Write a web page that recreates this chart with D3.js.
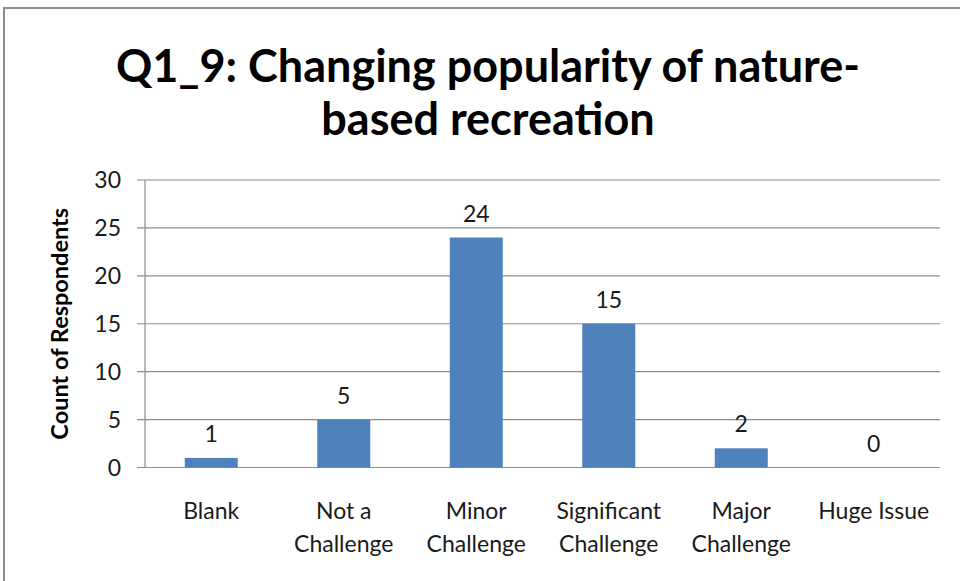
<!DOCTYPE html>
<html>
<head>
<meta charset="utf-8">
<script src="https://cdn.jsdelivr.net/npm/d3@7"></script>
<style>
  body { margin: 0; background: #fff; }
  text { font-family: Lato, "Open Sans", sans-serif; fill: #1a1a1a; }
</style>
</head>
<body>
<div id="chart"></div>
<script>
// Chart data
const categories = [["Blank"], ["Not a", "Challenge"], ["Minor", "Challenge"], ["Significant", "Challenge"], ["Major", "Challenge"], ["Huge Issue"]];
const counts = [1, 5, 24, 15, 2, 0];
const yTicks = [0, 5, 10, 15, 20, 25, 30];
const titleLines = ["Q1_9: Changing popularity of nature-", "based recreation"];
const yLabel = "Count of Respondents";

const W = 960, H = 581;
const margin = { top: 180, right: 20, bottom: 113.5, left: 145 };
const width = W - margin.left - margin.right;
const height = H - margin.top - margin.bottom;

const root = d3.select("#chart").append("svg")
    .attr("width", W)
    .attr("height", H);

// Outer chart border (runs off the right and bottom edges)
root.append("rect")
    .attr("x", 4).attr("y", 8)
    .attr("width", W + 10).attr("height", H + 10)
    .attr("fill", "#fff")
    .attr("stroke", "#8c8c8c")
    .attr("stroke-width", 2);

// Title
root.append("g").selectAll("text")
    .data(titleLines)
    .join("text")
    .attr("x", 488)
    .attr("y", (d, i) => 82 + i * 53)
    .attr("text-anchor", "middle")
    .attr("font-size", 45)
    .attr("font-weight", "bold")
    .style("fill", "#000")
    .text(d => d);

const svg = root.append("g")
    .attr("transform", `translate(${margin.left},${margin.top})`);

const x = d3.scaleBand()
    .domain(d3.range(categories.length))
    .range([0, width])
    .paddingInner(0.6)
    .paddingOuter(0.3);

const y = d3.scaleLinear()
    .domain([0, 30])
    .range([height, 0]);

// Gridlines
svg.append("g")
    .selectAll("line")
    .data(yTicks)
    .join("line")
    .attr("x1", -8).attr("x2", width)
    .attr("y1", d => y(d)).attr("y2", d => y(d))
    .attr("stroke", "#8c8c8c")
    .attr("stroke-width", 1.2);

// Y axis line
svg.append("line")
    .attr("x1", 0).attr("x2", 0)
    .attr("y1", 0).attr("y2", height)
    .attr("stroke", "#8c8c8c")
    .attr("stroke-width", 1.2);

// Y tick labels
svg.append("g")
    .selectAll("text")
    .data(yTicks)
    .join("text")
    .attr("x", -24)
    .attr("y", d => y(d))
    .attr("dy", "0.35em")
    .attr("text-anchor", "end")
    .attr("font-size", 23)
    .text(d => d);

// Y axis title
svg.append("text")
    .attr("transform", `translate(-85,${height / 2}) rotate(-90)`)
    .attr("text-anchor", "middle")
    .attr("dy", "0.35em")
    .attr("font-size", 23.5)
    .attr("font-weight", "bold")
    .style("fill", "#000")
    .text(yLabel);

// Bars
svg.append("g")
    .selectAll("rect")
    .data(counts)
    .join("rect")
    .attr("x", (d, i) => x(i))
    .attr("y", d => y(d))
    .attr("width", x.bandwidth())
    .attr("height", d => height - y(d))
    .attr("fill", "#4f81bd");

// Value labels
svg.append("g")
    .selectAll("text")
    .data(counts)
    .join("text")
    .attr("x", (d, i) => x(i) + x.bandwidth() / 2)
    .attr("y", d => y(d) - 16)
    .attr("text-anchor", "middle")
    .attr("font-size", 23)
    .text(d => d);

// Category labels
const cat = svg.append("g")
    .selectAll("text")
    .data(categories)
    .join("text")
    .attr("x", (d, i) => x(i) + x.bandwidth() / 2)
    .attr("y", height + 51)
    .attr("text-anchor", "middle")
    .attr("font-size", 23);

cat.selectAll("tspan")
    .data(d => d)
    .join("tspan")
    .attr("x", function () { return this.parentNode.getAttribute("x"); })
    .attr("dy", (d, i) => i === 0 ? 0 : 33)
    .text(d => d);
</script>
</body>
</html>
